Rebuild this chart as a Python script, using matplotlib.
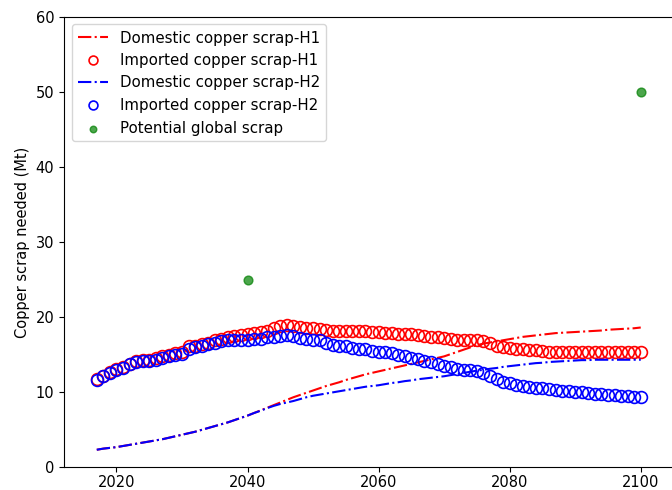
import matplotlib
matplotlib.use("Agg")
import matplotlib.pyplot as plt
import numpy as np

years = list(range(2017, 2101))

domestic_h1 = [2.3, 2.45, 2.55, 2.65, 2.8, 2.95, 3.1, 3.25, 3.4, 3.55,
               3.7, 3.9, 4.1, 4.3, 4.5, 4.7, 4.95, 5.2, 5.45, 5.7,
               5.95, 6.25, 6.55, 6.85, 7.2, 7.55, 7.9, 8.25, 8.6, 8.95,
               9.3, 9.6, 9.9, 10.2, 10.5, 10.8, 11.05, 11.3, 11.6, 11.85,
               12.1, 12.35, 12.55, 12.75, 12.95, 13.15, 13.35, 13.55, 13.75, 13.95,
               14.15, 14.35, 14.55, 14.75, 15.05, 15.35, 15.65, 15.95, 16.25, 16.45,
               16.6, 16.75, 16.9, 17.05, 17.2, 17.35, 17.45, 17.55, 17.65, 17.75,
               17.85, 17.9, 17.95, 18.0, 18.05, 18.1, 18.15, 18.2, 18.3, 18.35,
               18.4, 18.45, 18.5, 18.6]

imported_h1 = [11.7, 12.2, 12.7, 13.1, 13.3, 13.8, 14.1, 14.3, 14.3, 14.5,
               14.8, 15.0, 15.2, 15.4, 16.1, 16.2, 16.4, 16.6, 16.9, 17.1,
               17.3, 17.5, 17.6, 17.8, 17.9, 18.0, 18.2, 18.5, 18.8, 18.9,
               18.8, 18.7, 18.6, 18.5, 18.4, 18.3, 18.2, 18.2, 18.2, 18.1,
               18.1, 18.1, 18.0, 18.0, 17.9, 17.9, 17.8, 17.7, 17.7, 17.6,
               17.5, 17.4, 17.3, 17.2, 17.1, 17.0, 17.0, 16.9, 16.9, 16.8,
               16.6, 16.2, 16.0, 15.9, 15.8, 15.7, 15.6, 15.6, 15.5, 15.4,
               15.4, 15.4, 15.4, 15.4, 15.4, 15.4, 15.4, 15.4, 15.35, 15.35,
               15.3, 15.3, 15.3, 15.3]

domestic_h2 = [2.3, 2.45, 2.55, 2.65, 2.8, 2.95, 3.1, 3.25, 3.4, 3.55,
               3.7, 3.9, 4.1, 4.3, 4.5, 4.7, 4.95, 5.2, 5.45, 5.7,
               5.95, 6.25, 6.55, 6.85, 7.2, 7.5, 7.85, 8.15, 8.4, 8.6,
               8.8, 9.05, 9.3, 9.5, 9.65, 9.8, 9.95, 10.1, 10.25, 10.4,
               10.55, 10.7, 10.8, 10.9, 11.05, 11.2, 11.3, 11.45, 11.55, 11.7,
               11.8, 11.9, 12.0, 12.1, 12.25, 12.4, 12.55, 12.7, 12.85, 12.95,
               13.1, 13.2, 13.35, 13.45, 13.55, 13.65, 13.75, 13.85, 13.9, 14.0,
               14.05, 14.1, 14.15, 14.2, 14.25, 14.25, 14.3, 14.3, 14.3, 14.3,
               14.3, 14.3, 14.3, 14.3]

imported_h2 = [11.6, 12.1, 12.6, 13.0, 13.2, 13.7, 14.0, 14.2, 14.2, 14.3,
               14.6, 14.8, 15.0, 15.1, 15.8, 16.0, 16.1, 16.4, 16.6, 16.8,
               16.9, 16.9, 17.0, 17.0, 17.1, 17.1, 17.3, 17.4, 17.5, 17.6,
               17.5, 17.2, 17.1, 17.0, 16.9, 16.5, 16.3, 16.2, 16.1, 15.9,
               15.8, 15.7, 15.5, 15.4, 15.3, 15.2, 15.0, 14.8, 14.6, 14.4,
               14.2, 14.0, 13.7, 13.5, 13.3, 13.1, 13.0, 12.9, 12.8, 12.5,
               12.1, 11.7, 11.4, 11.2, 11.0, 10.8, 10.7, 10.6, 10.5, 10.4,
               10.3, 10.2, 10.1, 10.0, 9.95, 9.9, 9.8, 9.7, 9.6, 9.55,
               9.5, 9.45, 9.35, 9.3]

global_years = [2040, 2100]
global_scrap = [25, 50]

plt.rcParams['font.family'] = ['DejaVu Sans']
plt.rcParams['font.size'] = 10.5

fig = plt.figure(figsize=(6.72, 4.9), dpi=100)
ax = fig.add_axes([64/672, 23/490, 620/672, 450/490])

ax.plot(years, domestic_h1, color='red', linestyle='-.', linewidth=1.5,
        label='Domestic copper scrap-H1')
ax.plot(years, imported_h1, linestyle='none', marker='o', markersize=8.5,
        markerfacecolor='none', markeredgecolor='red', markeredgewidth=1.2,
        label='Imported copper scrap-H1')
ax.plot(years, domestic_h2, color='blue', linestyle='-.', linewidth=1.5,
        label='Domestic copper scrap-H2')
ax.plot(years, imported_h2, linestyle='none', marker='o', markersize=8.5,
        markerfacecolor='none', markeredgecolor='blue', markeredgewidth=1.2,
        label='Imported copper scrap-H2')
ax.scatter(global_years, global_scrap, s=40, color='green', alpha=0.7,
           label='Potential global scrap', zorder=3)

ax.set_xlim(2012, 2106.6)
ax.set_ylim(0, 60)
ax.set_xticks([2020, 2040, 2060, 2080, 2100])
ax.set_yticks([0, 10, 20, 30, 40, 50, 60])
ax.set_ylabel('Copper scrap needed (Mt)')
ax.tick_params(axis='x', pad=2.5)

leg = ax.legend(loc='upper left', fontsize=10.8, markerscale=0.75)

fig.savefig('out.png', dpi=100)
